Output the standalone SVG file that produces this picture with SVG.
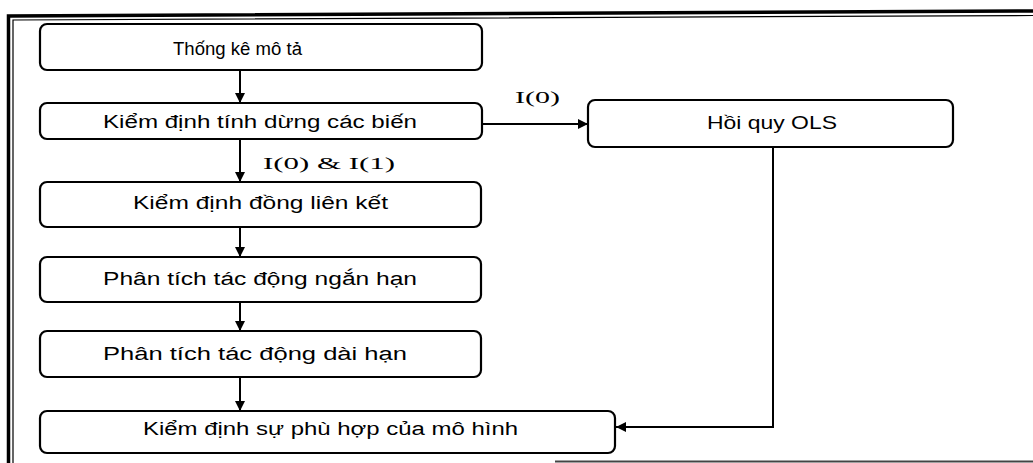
<svg xmlns="http://www.w3.org/2000/svg" width="1033" height="463" viewBox="0 0 1033 463">
  <style>
    .box { fill: #fff; stroke: #000; stroke-width: 2.2; }
    .lbl { font-family: "Liberation Sans", Arial, sans-serif; font-size: 18px; fill: #000; }
    .cond { font-family: "Liberation Serif", "Times New Roman", serif; font-size: 17px; fill: #000; }
    .edge { fill: none; stroke: #000; stroke-width: 2; }
    .frame { fill: none; stroke: #000; }
  </style>
  <defs>
    <marker id="arrow" viewBox="0 0 10 10" refX="10" refY="5" markerWidth="10" markerHeight="10" markerUnits="userSpaceOnUse" orient="auto">
      <path d="M0,0 L10,5 L0,10 Z" fill="#000"/>
    </marker>
  </defs>
  <rect width="1033" height="463" fill="#fff"/>

  <!-- double outer frame -->
  <g id="frame">
    <path class="frame" stroke-width="3.5" d="M8.5,463 L8.5,16 L1033,11"/>
    <path class="frame" stroke-width="1.2" d="M13,463 L13,20 L1033,15.5"/>
    <line x1="555" y1="461.5" x2="1033" y2="461.5" stroke="#444" stroke-width="2"/>
  </g>

  <!-- connectors -->
  <g id="connectors">
    <line class="edge" x1="240" y1="70" x2="240" y2="103" marker-end="url(#arrow)"/>
    <line class="edge" x1="240" y1="139" x2="240" y2="182" marker-end="url(#arrow)"/>
    <line class="edge" x1="240" y1="227" x2="240" y2="257" marker-end="url(#arrow)"/>
    <line class="edge" x1="240" y1="302" x2="240" y2="331" marker-end="url(#arrow)"/>
    <line class="edge" x1="240" y1="377" x2="240" y2="411" marker-end="url(#arrow)"/>
    <line class="edge" stroke-width="1.5" x1="482" y1="124" x2="588" y2="124" marker-end="url(#arrow)"/>
    <polyline class="edge" points="773,147 773,427 616,427" marker-end="url(#arrow)"/>
    <text class="cond" x="515" y="103" textLength="45" lengthAdjust="spacingAndGlyphs">I(0)</text>
    <text class="cond" x="263" y="169" textLength="132" lengthAdjust="spacingAndGlyphs">I(0) &amp; I(1)</text>
  </g>

  <g id="n-thong-ke">
    <rect class="box" x="40" y="24" width="442" height="46" rx="7"/>
    <text class="lbl" x="173" y="55" textLength="129" lengthAdjust="spacingAndGlyphs">Thống kê mô tả</text>
  </g>
  <g id="n-tinh-dung">
    <rect class="box" x="40" y="103" width="442" height="36" rx="7"/>
    <text class="lbl" x="103" y="128" textLength="314" lengthAdjust="spacingAndGlyphs">Kiểm định tính dừng các biến</text>
  </g>
  <g id="n-dong-lien-ket">
    <rect class="box" x="40" y="182" width="441" height="45" rx="7"/>
    <text class="lbl" x="133" y="209" textLength="255" lengthAdjust="spacingAndGlyphs">Kiểm định đồng liên kết</text>
  </g>
  <g id="n-ngan-han">
    <rect class="box" x="40" y="257" width="441" height="45" rx="7"/>
    <text class="lbl" x="103" y="285" textLength="314" lengthAdjust="spacingAndGlyphs">Phân tích tác động ngắn hạn</text>
  </g>
  <g id="n-dai-han">
    <rect class="box" x="40" y="331" width="441" height="46" rx="7"/>
    <text class="lbl" x="103" y="360" textLength="304" lengthAdjust="spacingAndGlyphs">Phân tích tác động dài hạn</text>
  </g>
  <g id="n-phu-hop">
    <rect class="box" x="40" y="411" width="575" height="42" rx="7"/>
    <text class="lbl" x="143" y="435" textLength="375" lengthAdjust="spacingAndGlyphs">Kiểm định sự phù hợp của mô hình</text>
  </g>
  <g id="n-ols">
    <rect class="box" x="588" y="100" width="365" height="47" rx="7"/>
    <text class="lbl" x="707" y="129" textLength="130" lengthAdjust="spacingAndGlyphs">Hồi quy OLS</text>
  </g>
</svg>
